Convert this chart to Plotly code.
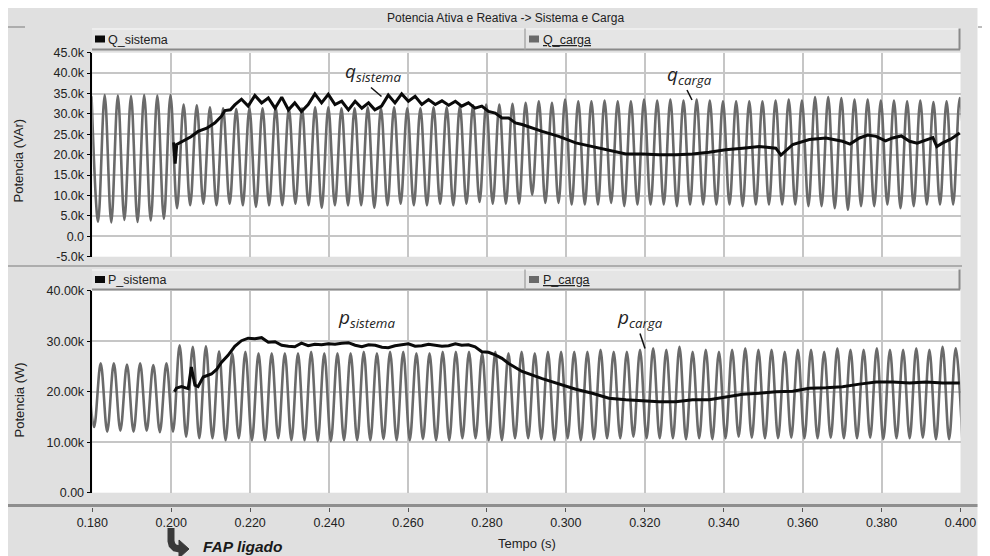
import plotly.graph_objects as go

# the page places the figure 8 px from the top-left corner of the window
OFF = 8
W, H = 982, 548

# ---------------- text / ticks ----------------
chart_title = "Potencia Ativa e Reativa -> Sistema e Carga"
x_tick_vals = [0.18, 0.20, 0.22, 0.24, 0.26, 0.28, 0.30, 0.32, 0.34, 0.36, 0.38, 0.40]
x_tick_text = ["0.180", "0.200", "0.220", "0.240", "0.260", "0.280",
               "0.300", "0.320", "0.340", "0.360", "0.380", "0.400"]
q_tick_vals = [-5, 0, 5, 10, 15, 20, 25, 30, 35, 40, 45]
q_tick_text = ["-5.0k", "0.0", "5.0k", "10.0k", "15.0k", "20.0k",
               "25.0k", "30.0k", "35.0k", "40.0k", "45.0k"]
p_tick_vals = [0, 10, 20, 30, 40]
p_tick_text = ["0.00", "10.00k", "20.00k", "30.00k", "40.00k"]

# ---------------- data (kVAr / kW) ----------------
# load waveforms: 300 Hz ripple, successive peak / trough values
ripple_period = 1 / 300
q_carga_peak_t0 = 0.17981
q_carga_trough_t0 = 0.18147
q_carga_peaks = [34.3, 34.6, 34.5, 34.4, 34.6, 34.5, 34.6,
                 32.3, 32.1, 31.6, 31.4, 31.2, 31.4, 31.4, 31.6, 31.4, 31.4, 31.6, 31.6, 31.4,
                 31.4, 31.6, 31.4, 31.6, 31.4, 31.4, 31.6, 31.6, 31.9, 32.1, 32.3, 32.3, 32.5,
                 32.7, 33.1, 32.7, 33.5, 33.1, 33.1, 33.3, 33.1, 33.1, 33.5, 33.3, 33.5, 33.3,
                 33.5, 33.3, 33.1, 33.1, 33.1, 33.1, 33.3, 33.5, 33.3, 34.1, 34.1, 33.9, 33.5,
                 33.5, 33.3, 33.3, 33.1, 33.3, 32.9, 33.1, 33.9]
q_carga_troughs = [3.6, 3.4, 4.0, 3.5, 3.9, 4.3,
                   6.9, 7.6, 8.0, 7.6, 8.0, 7.6, 7.2, 7.6, 7.6, 8.0, 7.6, 7.0, 7.6, 7.6, 7.6,
                   7.0, 7.6, 8.0, 7.6, 7.6, 8.0, 7.6, 8.0, 8.4, 8.0, 8.0, 8.0,
                   10.2, 8.2, 8.2, 7.8, 7.8, 7.8, 8.2, 7.4, 7.8, 7.8, 7.8, 7.4, 7.8, 7.8, 7.8,
                   7.8, 7.4, 7.8, 7.8, 7.8, 7.8, 7.4, 7.4, 6.9, 6.5, 7.4, 7.4, 7.8, 6.9, 7.4,
                   7.8, 7.8, 7.8, 7.8]

p_carga_peak_t0 = 0.17879
p_carga_trough_t0 = 0.18045
p_carga_peaks = [25.5, 25.6, 25.6, 25.4, 25.6, 25.3, 25.6,
                 29.2, 28.9, 29.0, 28.0, 27.6, 27.9, 27.6, 27.6, 27.6, 27.6, 27.9, 27.6, 27.6,
                 27.6, 27.9, 27.6, 27.9, 27.9, 27.6, 27.6, 27.9, 27.9, 27.9, 27.6, 27.9, 27.6,
                 27.9, 27.6, 27.9, 27.9, 27.9, 27.9, 28.3, 27.9, 27.9, 28.3, 28.6, 28.3, 28.9,
                 27.9, 28.3, 27.9, 28.3, 28.6, 28.3, 28.3, 27.9, 28.3, 28.3, 27.9, 28.6, 28.3,
                 28.3, 28.6, 28.3, 28.3, 28.6, 28.3, 28.9, 28.6]
p_carga_troughs = [13.0, 12.1, 12.3, 12.1, 12.3, 12.0, 12.1,
                   11.1, 10.8, 10.8, 10.4, 10.8, 10.4, 10.4, 10.8, 10.4, 10.4, 10.2, 10.2, 10.4,
                   10.4, 10.4, 10.6, 10.4, 10.4, 10.6, 10.4, 10.4, 10.8, 10.8, 10.4, 10.4, 10.8,
                   10.8, 10.6, 10.4, 10.8, 10.4, 10.6, 10.8, 10.8, 11.1, 10.8, 10.8, 10.8, 10.6,
                   10.8, 10.6, 10.8, 11.1, 10.9, 10.8, 10.8, 10.9, 10.8, 10.8, 10.9, 10.8, 10.8,
                   10.9, 10.6, 10.8, 10.8, 10.9, 10.6, 10.6, 10.8]

# source (sistema) curves, read point by point
q_sistema_t = [0.2006, 0.2010, 0.2014, 0.2030, 0.2050, 0.2068, 0.2090, 0.2111, 0.2127, 0.2136,
               0.2150, 0.2161, 0.2178, 0.2195, 0.2212, 0.2229, 0.2246, 0.2263, 0.2280, 0.2297,
               0.2313, 0.2330, 0.2347, 0.2364, 0.2381, 0.2398, 0.2415, 0.2432, 0.2449, 0.2466,
               0.2483, 0.2500, 0.2516, 0.2533, 0.2550, 0.2567, 0.2584, 0.2601, 0.2618, 0.2635,
               0.2652, 0.2669, 0.2686, 0.2703, 0.2720, 0.2736, 0.2753, 0.2770, 0.2787, 0.2804,
               0.2821, 0.2838, 0.2855, 0.2872, 0.2889, 0.2940, 0.2982, 0.3025, 0.3067, 0.3109,
               0.3152, 0.3194, 0.3236, 0.3279, 0.3321, 0.3363, 0.3405, 0.3448, 0.3490, 0.3532,
               0.3545, 0.3575, 0.3617, 0.3659, 0.3701, 0.3720, 0.3744, 0.3765, 0.3786, 0.3810,
               0.3828, 0.3850, 0.3871, 0.3890, 0.3913, 0.3930, 0.3940, 0.3955, 0.3975, 0.3998]
q_sistema = [23.0, 17.8, 22.5, 23.4, 24.4, 25.7, 26.5, 27.8, 29.4, 30.8,
             31.0, 32.2, 33.6, 31.9, 34.5, 32.7, 33.9, 31.4, 34.1, 31.0,
             32.7, 30.6, 32.3, 34.9, 32.7, 34.8, 32.3, 33.1, 31.0, 33.1,
             31.4, 32.7, 31.0, 31.9, 34.6, 32.7, 34.9, 33.1, 34.3, 32.3,
             33.5, 32.3, 33.2, 32.1, 33.1, 31.9, 32.7, 31.4, 31.9, 30.6,
             30.2, 29.0, 29.0, 27.8, 27.4, 25.7, 24.5, 22.9, 22.0, 21.2,
             20.2, 20.2, 20.0, 20.0, 20.2, 20.6, 21.2, 21.6, 22.0, 21.6,
             19.9, 22.5, 23.7, 24.1, 23.3, 22.6, 24.1, 24.8, 24.5, 23.4,
             24.1, 24.6, 23.3, 22.8, 23.7, 24.2, 22.0, 22.9, 23.8, 25.3]

p_sistema_t = [0.2008, 0.2013, 0.2026, 0.2043, 0.2051, 0.2060, 0.2068, 0.2081, 0.2102, 0.2115,
               0.2127, 0.2144, 0.2161, 0.2178, 0.2195, 0.2212, 0.2229, 0.2246, 0.2263, 0.2280,
               0.2297, 0.2313, 0.2330, 0.2347, 0.2364, 0.2381, 0.2398, 0.2415, 0.2432, 0.2449,
               0.2466, 0.2483, 0.2500, 0.2517, 0.2534, 0.2550, 0.2567, 0.2584, 0.2601, 0.2618,
               0.2635, 0.2652, 0.2669, 0.2686, 0.2703, 0.2720, 0.2736, 0.2753, 0.2770, 0.2787,
               0.2804, 0.2821, 0.2838, 0.2855, 0.2872, 0.2889, 0.2940, 0.2982, 0.3025, 0.3067,
               0.3109, 0.3152, 0.3194, 0.3236, 0.3279, 0.3321, 0.3363, 0.3405, 0.3448, 0.3490,
               0.3532, 0.3575, 0.3617, 0.3659, 0.3701, 0.3744, 0.3786, 0.3828, 0.3871, 0.3913,
               0.3955, 0.3998]
p_sistema = [20.0, 20.7, 21.0, 20.6, 24.9, 21.3, 21.0, 22.9, 23.5, 24.4,
             25.8, 27.2, 29.0, 30.1, 30.6, 30.5, 30.7, 29.8, 29.9, 29.2,
             29.0, 28.9, 29.6, 29.1, 29.4, 29.3, 29.5, 29.4, 29.6, 29.7,
             29.2, 28.9, 29.3, 29.2, 28.8, 28.7, 29.1, 29.3, 29.5, 29.0,
             29.1, 29.4, 29.2, 29.0, 29.1, 29.5, 29.2, 29.3, 28.9, 27.9,
             27.8, 27.3, 26.6, 25.6, 24.8, 24.0, 22.6, 21.5, 20.5, 19.7,
             18.7, 18.4, 18.2, 18.0, 18.0, 18.4, 18.4, 19.0, 19.5, 19.7,
             20.0, 20.1, 20.7, 20.8, 21.0, 21.5, 21.9, 21.9, 21.7, 21.9,
             21.7, 21.7]

# ---------------- helpers ----------------
def merge_extremes(p_t0, peaks, tr_t0, troughs):
    pts = [(p_t0 + i * ripple_period, v) for i, v in enumerate(peaks)]
    pts += [(tr_t0 + i * ripple_period, v) for i, v in enumerate(troughs)]
    pts.sort()
    return [p[0] for p in pts], [p[1] for p in pts]

def X(px):  # window pixel -> paper fraction
    return (px - OFF) / W

def Y(py):
    return 1 - (py - OFF) / H

qc_t, qc_v = merge_extremes(q_carga_peak_t0, q_carga_peaks, q_carga_trough_t0, q_carga_troughs)
pc_t, pc_v = merge_extremes(p_carga_peak_t0, p_carga_peaks, p_carga_trough_t0, p_carga_troughs)

GRAY = "#6a6a6a"
BLACK = "#0a0a0a"
GRID = "#c6c6c6"
BG = "#e0e0e0"

fig = go.Figure()
fig.add_trace(go.Scatter(x=qc_t, y=qc_v, mode="lines", name="Q_carga",
                         line=dict(color=GRAY, width=2.6, shape="spline", smoothing=1.0),
                         xaxis="x", yaxis="y"))
fig.add_trace(go.Scatter(x=q_sistema_t, y=q_sistema, mode="lines", name="Q_sistema",
                         line=dict(color=BLACK, width=3), xaxis="x", yaxis="y"))
fig.add_trace(go.Scatter(x=pc_t, y=pc_v, mode="lines", name="P_carga",
                         line=dict(color=GRAY, width=2.6, shape="spline", smoothing=1.0),
                         xaxis="x2", yaxis="y2"))
fig.add_trace(go.Scatter(x=p_sistema_t, y=p_sistema, mode="lines", name="P_sistema",
                         line=dict(color=BLACK, width=3), xaxis="x2", yaxis="y2"))
# carrier for the separate time axis under the lower panel
fig.add_trace(go.Scatter(x=[x_tick_vals[0], x_tick_vals[-1]], y=[None, None], mode="lines",
                         showlegend=False, hoverinfo="skip", xaxis="x3", yaxis="y2"))

xdom = [X(92.3), X(960.5)]
tick_font = dict(family="Liberation Sans, Arial, sans-serif", size=12.5, color="#222")

common_x = dict(domain=xdom, range=[0.18, 0.40], tickvals=x_tick_vals, showticklabels=False,
                ticks="", showgrid=True, gridcolor=GRID, gridwidth=1.6, zeroline=False,
                showline=False, fixedrange=True, automargin=False)
common_y = dict(ticks="outside", ticklen=4, tickwidth=1, tickcolor="#000", showline=True,
                linecolor="#000", linewidth=1.5, showgrid=True, gridcolor=GRID, gridwidth=1.6,
                zeroline=False, tickfont=tick_font, fixedrange=True, automargin=False)

fig.update_layout(
    width=W, height=H, autosize=False,
    margin=dict(l=0, r=0, t=0, b=0, pad=0, autoexpand=False),
    paper_bgcolor=BG, plot_bgcolor="white",
    showlegend=False,
    font=dict(family="Liberation Sans, Arial, sans-serif", color="#222"),
    xaxis=dict(anchor="y", **common_x),
    yaxis=dict(domain=[Y(256.7), Y(52.7)], range=[-5, 45], tickvals=q_tick_vals,
               ticktext=q_tick_text, anchor="x", **common_y),
    xaxis2=dict(anchor="y2", **common_x),
    yaxis2=dict(domain=[Y(492.7), Y(290.7)], range=[0, 40], tickvals=p_tick_vals,
                ticktext=p_tick_text, anchor="x2", **common_y),
    xaxis3=dict(domain=xdom, range=[0.18, 0.40], overlaying="x2", anchor="free",
                position=Y(507), side="bottom", tickvals=x_tick_vals, ticktext=x_tick_text,
                ticks="outside", ticklen=4, tickwidth=1, tickcolor="#555", showgrid=False,
                zeroline=False, showline=False, tickfont=tick_font, fixedrange=True,
                automargin=False),
)

shapes = []
def rect(x0, y0, x1, y1, fill, line_color=None, lw=0, layer="below"):
    shapes.append(dict(type="rect", xref="paper", yref="paper", x0=X(x0), x1=X(x1),
                       y0=Y(y1), y1=Y(y0), fillcolor=fill, layer=layer,
                       line=dict(width=lw, color=line_color or fill)))

def hline(x0, x1, y, color, lw, layer="below"):
    shapes.append(dict(type="line", xref="paper", yref="paper", x0=X(x0), x1=X(x1),
                       y0=Y(y), y1=Y(y), line=dict(color=color, width=lw), layer=layer))

def vline(x, y0, y1, color, lw, layer="below"):
    shapes.append(dict(type="line", xref="paper", yref="paper", x0=X(x), x1=X(x),
                       y0=Y(y0), y1=Y(y1), line=dict(color=color, width=lw), layer=layer))

def seg(x0, y0, x1, y1, color, lw, layer="above"):
    shapes.append(dict(type="line", xref="paper", yref="paper", x0=X(x0), x1=X(x1),
                       y0=Y(y0), y1=Y(y1), line=dict(color=color, width=lw), layer=layer))

# window frame bits (white strip at the right, short rules at y=27)
rect(977.5, 8, 992, 560, "white")
hline(8, 25, 27, "#7a7a7a", 1)
hline(978, 992, 27, "#7a7a7a", 1)

# legend bars
for (y0, y1) in [(28.5, 49.5), (269.5, 289.5)]:
    rect(92, y0, 960, y1, "#e5e5e5")
    hline(92, 960, y0 + 0.5, "#f8f8f8", 1)
    hline(92, 960, y1, "#8a8a8a", 2)
    vline(525, y0, y1, "#a9a9a9", 1.5)
    vline(959.5, y0, y1, "#8a8a8a", 2)
    cy = (y0 + y1) / 2
    rect(95, cy - 3.5, 105, cy + 3.5, BLACK, layer="above")
    rect(529, cy - 3.5, 539, cy + 3.5, GRAY, layer="above")

# separators and bottom axis rule
hline(8, 962, 266, "#9c9c9c", 1.5)
hline(8, 977.5, 505.5, "#8e8e8e", 3)

# curved arrow (FAP ligado)
def path_from(points, close=False):
    s = "M " + " L ".join(f"{X(a):.5f},{Y(b):.5f}" for a, b in points)
    return s + (" Z" if close else "")

shapes.append(dict(type="path", xref="paper", yref="paper",
                   path=path_from([(171, 528), (171, 541), (172, 545), (175, 548), (180, 549)]),
                   line=dict(color="#3a3a3a", width=7), layer="above"))
shapes.append(dict(type="path", xref="paper", yref="paper",
                   path=path_from([(179, 540), (189, 549), (179, 558)], close=True),
                   fillcolor="#3a3a3a", line=dict(color="#3a3a3a", width=1), layer="above"))

# leader lines for curve labels
seg(371, 87.5, 381.5, 96.5, "#111", 1.5)
seg(687, 90, 692, 100, "#111", 1.5)
seg(640, 333.5, 645, 348.5, "#111", 1.5)

fig.update_layout(shapes=shapes)

ann = []
def text(x, y, s, size=12, xanchor="center", yanchor="middle", family=None, angle=0, color="#222"):
    d = dict(xref="paper", yref="paper", x=X(x), y=Y(y), text=s, showarrow=False,
             xanchor=xanchor, yanchor=yanchor, textangle=angle,
             font=dict(size=size, color=color,
                       family=family or "Liberation Sans, Arial, sans-serif"))
    ann.append(d)

text(505, 18, chart_title, size=12)
text(106, 39.5, "Q_sistema", size=12.5, xanchor="left")
text(541, 39.5, "<u>Q_carga</u>", size=12.5, xanchor="left")
text(106, 280, "P_sistema", size=12.5, xanchor="left")
text(541, 280, "<u>P_carga</u>", size=12.5, xanchor="left")
text(18.5, 161, "Potencia (VAr)", size=13, angle=-90)
text(18.5, 400, "Potencia (W)", size=13, angle=-90)
text(527, 543, "Tempo (s)", size=13)
text(201, 546, "<b><i>FAP ligado</i></b>", size=15.5, xanchor="left", color="#1a1a1a")

lab_font = "Open Sans, Noto Sans, sans-serif"
text(343, 72, "<i>q<sub>sistema</sub></i>", size=19, xanchor="left", family=lab_font)
text(665, 75, "<i>q<sub>carga</sub></i>", size=19, xanchor="left", family=lab_font)
text(336, 318, "<i>p<sub>sistema</sub></i>", size=19, xanchor="left", family=lab_font)
text(615, 318, "<i>p<sub>carga</sub></i>", size=19, xanchor="left", family=lab_font)

fig.update_layout(annotations=ann)
fig.write_html("out.html")
